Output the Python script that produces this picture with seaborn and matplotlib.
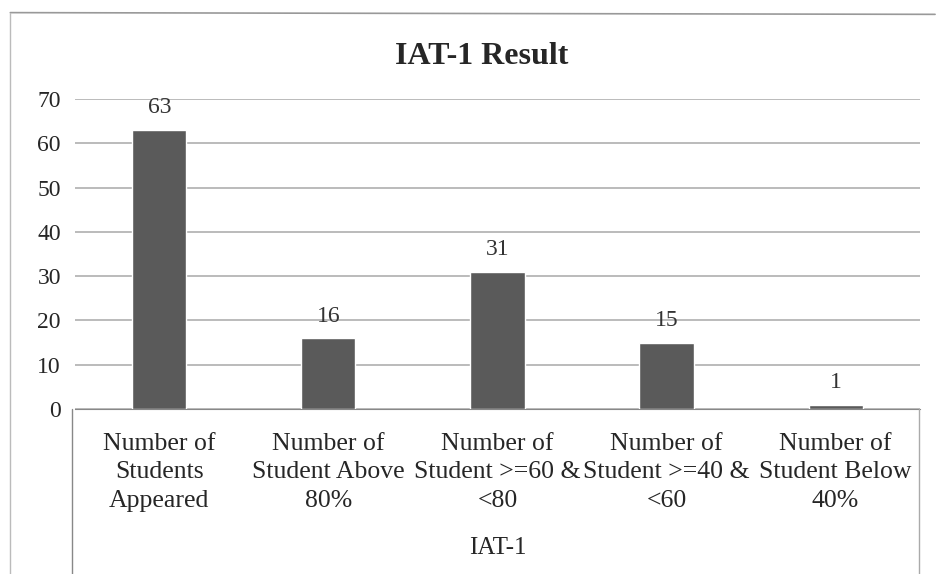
import matplotlib
matplotlib.use("Agg")
import matplotlib.pyplot as plt
import seaborn as sns
import pandas as pd
from matplotlib.lines import Line2D

# data
categories = ["Number of\nStudents\nAppeared",
              "Number of\nStudent Above\n80%",
              "Number of\nStudent >=60 &\n<80",
              "Number of\nStudent >=40 &\n<60",
              "Number of\nStudent Below\n40%"]
counts = [63, 16, 31, 15, 1]
yticks = [0, 10, 20, 30, 40, 50, 60, 70]

df = pd.DataFrame({"cat": categories, "count": counts})

sns.set_style("white")
plt.rcParams["font.family"] = ["Liberation Serif", "DejaVu Serif"]

fig = plt.figure(figsize=(9.36, 5.74), dpi=100)
ax = fig.add_axes([0.080, 0.2875, 0.903, 0.54])

sns.barplot(data=df, x="cat", y="count", color="#5a5a5a", width=0.32,
            saturation=1, ax=ax, zorder=3)

ax.set_ylim(0, 70)
ax.set_yticks(yticks)
ax.yaxis.grid(True, color="#a8a8a8", linewidth=1.1, zorder=0)
ax.set_axisbelow(True)
for s in ["top", "right", "left"]:
    ax.spines[s].set_visible(False)
ax.spines["bottom"].set_color("#888888")
ax.tick_params(axis="y", labelsize=17, length=0, pad=10)
ax.tick_params(axis="x", labelsize=18.5, length=0, pad=17)
for lbl in ax.get_xticklabels():
    lbl.set_linespacing(1.4)

for i, v in enumerate(counts):
    ax.text(i, v + 2.6, str(v), ha="center", va="bottom", fontsize=17, color="#333333")

ax.set_xlabel("IAT-1", fontsize=18, labelpad=18)
ax.set_ylabel("")
fig.text(0.515, 0.902, "IAT-1 Result", ha="center", va="center",
         fontsize=23, fontweight="bold")

# chart frame lines (outer border and category label box)
fig.add_artist(Line2D([0.011, 0.999], [0.978, 0.975], color="#999999", lw=1.2))
fig.add_artist(Line2D([0.011, 0.011], [0.978, 0.0], color="#bbbbbb", lw=1.0))
fig.add_artist(Line2D([0.077, 0.077], [0.2875, 0.0], color="#888888", lw=1.0))
fig.add_artist(Line2D([0.982, 0.982], [0.2875, 0.0], color="#aaaaaa", lw=1.0))

fig.savefig("out.png", dpi=100)
